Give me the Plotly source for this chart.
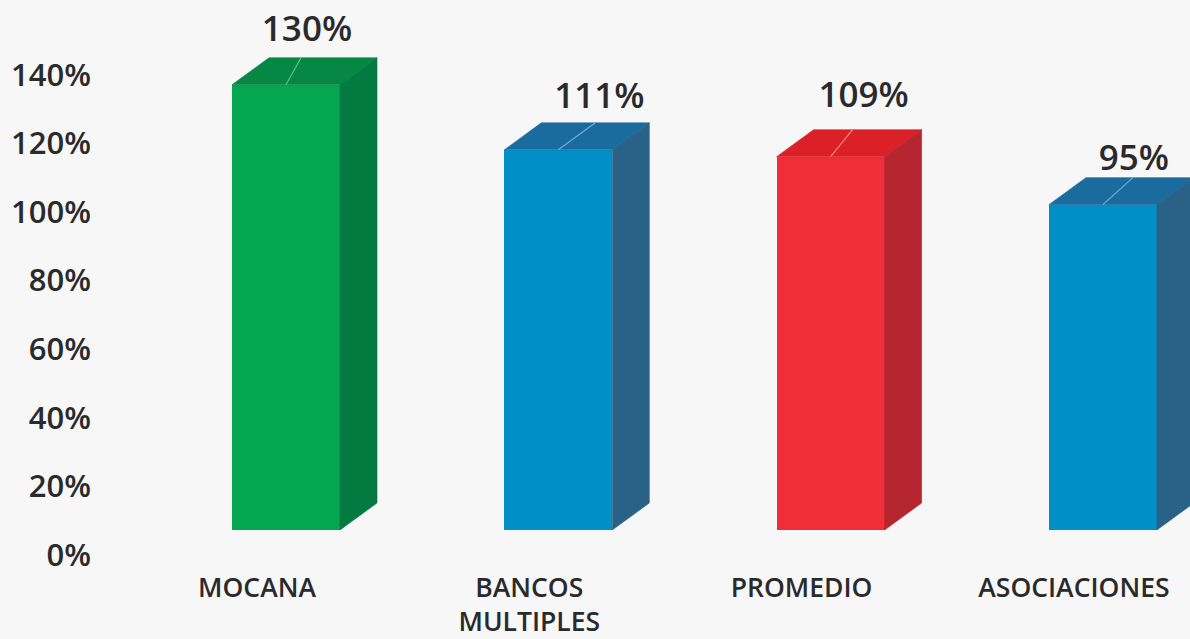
import plotly.graph_objects as go

# ---- data ----
categories = ["MOCANA", "BANCOS<br>MULTIPLES", "PROMEDIO", "ASOCIACIONES"]
values = [130, 111, 109, 95]
y_ticks = [0, 20, 40, 60, 80, 100, 120, 140]
y_tick_labels = ["0%", "20%", "40%", "60%", "80%", "100%", "120%", "140%"]

# ---- style ----
front = ["#04A64F", "#0090C7", "#EF2E3A", "#0090C7"]
side = ["#037A40", "#2A6186", "#B6262E", "#2A6186"]
top = ["#068845", "#1A6C9F", "#DB2027", "#1A6C9F"]
leader = ["#5FC08C", "#6FAFD0", "#F08A80", "#6FAFD0"]
BG = "#F7F7F7"
INK = "#2A2A2C"
FONT = "Open Sans"

# ---- geometry (pixel-to-axis scales) ----
W, H = 1190, 639
PLOT_BOTTOM = 568
PX_X = 272.3
PX_Y = 3.425
PX_Y2 = 3.43
X0_PX = 257
BASE_PX = 530
TICK0_PX = 555
BAR_OFFSET = -25 / PX_X
BAR_WIDTH = 108 / PX_X
DEPTH_X = 37 / PX_X
DEPTH_Y = 27 / PX_Y
label_dx = [21, 41, 33, 31]
label_dy = [53, 51, 58, 43]
leader_dx = [15, 37, 22, 30]

fig = go.Figure()
xs = list(range(len(categories)))

fig.add_trace(go.Bar(
    x=xs, y=values, width=BAR_WIDTH, offset=BAR_OFFSET,
    marker=dict(color=front, line=dict(width=0)),
    hoverinfo="skip", showlegend=False,
))

for i, v in zip(xs, values):
    l = i + BAR_OFFSET
    r = l + BAR_WIDTH
    fig.add_trace(go.Scatter(
        x=[l, l + DEPTH_X, r + DEPTH_X, r, l],
        y=[v, v + DEPTH_Y, v + DEPTH_Y, v, v],
        mode="lines", fill="toself", fillcolor=top[i],
        line=dict(width=0.6, color=top[i]),
        hoverinfo="skip", showlegend=False,
    ))
    fig.add_trace(go.Scatter(
        x=[r, r + DEPTH_X, r + DEPTH_X, r, r],
        y=[0, DEPTH_Y, v + DEPTH_Y, v, 0],
        mode="lines", fill="toself", fillcolor=side[i],
        line=dict(width=0.6, color=side[i]),
        hoverinfo="skip", showlegend=False,
    ))
    c = l + BAR_WIDTH / 2
    fig.add_trace(go.Scatter(
        x=[c, c + leader_dx[i] / PX_X],
        y=[v, v + DEPTH_Y],
        mode="lines", line=dict(width=1.2, color=leader[i]),
        hoverinfo="skip", showlegend=False,
    ))
    fig.add_trace(go.Scatter(
        x=[c + label_dx[i] / PX_X], y=[v + label_dy[i] / PX_Y],
        mode="text", text=[f"{v}%"], textposition="middle center",
        textfont=dict(family=FONT, size=35, color=INK, weight=600),
        hoverinfo="skip", showlegend=False, cliponaxis=False,
    ))

# carrier for the offset percentage axis
fig.add_trace(go.Scatter(
    x=[0], y=[0], yaxis="y2", mode="markers", marker=dict(opacity=0),
    hoverinfo="skip", showlegend=False,
))

fig.update_layout(
    width=W, height=H,
    autosize=False,
    margin=dict(l=0, r=0, t=0, b=H - PLOT_BOTTOM, pad=0, autoexpand=False),
    paper_bgcolor=BG, plot_bgcolor=BG,
    bargap=0,
    xaxis=dict(
        range=[-X0_PX / PX_X, (W - X0_PX) / PX_X],
        tickmode="array", tickvals=xs, ticktext=categories,
        tickfont=dict(family=FONT, size=26.5, color=INK, weight=600),
        ticks="", showgrid=False, zeroline=False, showline=False,
        fixedrange=True, ticklabelstandoff=1, automargin=False,
    ),
    yaxis=dict(
        range=[(BASE_PX - PLOT_BOTTOM) / PX_Y, BASE_PX / PX_Y],
        showticklabels=False, ticks="", showgrid=False, zeroline=False,
        showline=False, fixedrange=True,
    ),
    yaxis2=dict(
        overlaying="y", anchor="free", position=91 / W, side="left",
        range=[(TICK0_PX - PLOT_BOTTOM) / PX_Y2, TICK0_PX / PX_Y2],
        tickmode="array", tickvals=y_ticks, ticktext=y_tick_labels,
        tickfont=dict(family=FONT, size=31, color=INK, weight=600),
        ticks="", showgrid=False, zeroline=False, showline=False,
        fixedrange=True,
    ),
)

fig.write_html(
    "out.html",
    config=dict(displayModeBar=False),
    post_script="document.body.style.margin='0';document.body.style.overflow='hidden';document.body.style.background='#F7F7F7';",
)
